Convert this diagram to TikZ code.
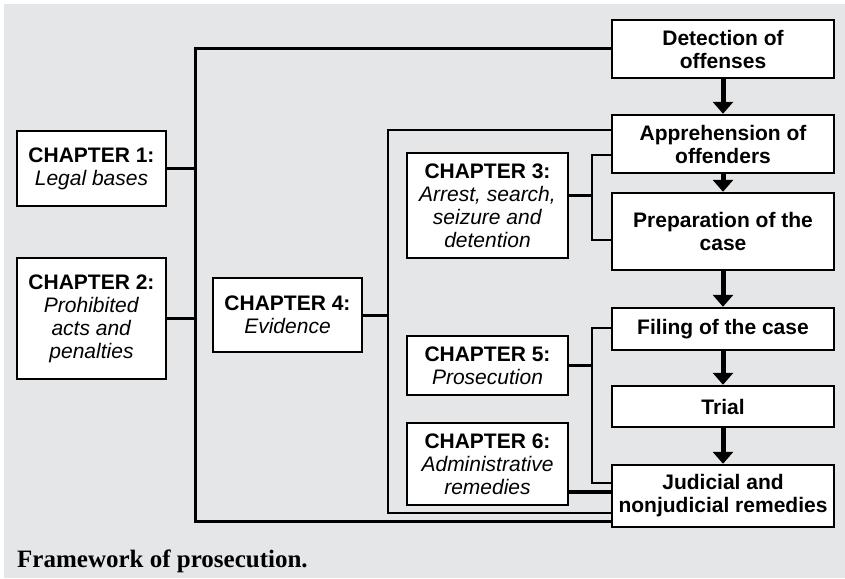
\documentclass[tikz,border=0pt]{standalone}
\usepackage{fontspec}
\setmainfont{Liberation Serif}
\setsansfont{Liberation Sans}
\usetikzlibrary{arrows.meta}
\definecolor{panel}{RGB}{229,230,232}

\begin{document}
\begin{tikzpicture}[x=1pt,y=-1pt,
  box/.style={draw, line width=2.4pt, fill=white, inner sep=0pt, align=center,
    font=\sffamily\fontsize{21}{23}\selectfont},
  chap/.style={box, minimum width=149pt},
  stage/.style={box, font=\sffamily\bfseries\fontsize{21}{23}\selectfont, minimum width=222pt},
  link/.style={line width=2.2pt},
  heavy/.style={line width=3pt},
  flow/.style={line width=5pt, -{Triangle[width=20pt,length=12pt]}}]
\useasboundingbox (0,0) rectangle (845,578);
\fill[panel] (4,4) rectangle (845,578);

% stages of the prosecution
\node[stage, minimum height=58pt] (det) at (723,49) {Detection of\\offenses};
\node[stage, minimum height=58pt] (app) at (723,144) {Apprehension of\\offenders};
\node[stage, minimum height=77pt] (prep) at (723,231.5) {Preparation of the\\case};
\node[stage, minimum height=42pt] (fil) at (723,329) {Filing of the case};
\node[stage, minimum height=41pt] (tri) at (723,406.5) {Trial};
\node[stage, minimum height=62pt] (jud) at (723,496) {Judicial and\\nonjudicial remedies};

% chapters
\node[chap, minimum height=75pt] (ch1) at (91.5,168.5) {\textbf{CHAPTER 1:}\\\textit{Legal bases}};
\node[chap, minimum height=121pt] (ch2) at (91.5,318.5) {\textbf{CHAPTER 2:}\\\textit{Prohibited}\\\textit{acts and}\\\textit{penalties}};
\node[chap, minimum height=74pt] (ch4) at (287.5,315) {\textbf{CHAPTER 4:}\\\textit{Evidence}};
\node[chap, minimum width=161pt, minimum height=105pt] (ch3) at (487.5,205.5) {\textbf{CHAPTER 3:}\\\textit{Arrest, search,}\\\textit{seizure and}\\\textit{detention}};
\node[chap, minimum width=161pt, minimum height=59pt] (ch5) at (487.5,365.5) {\textbf{CHAPTER 5:}\\\textit{Prosecution}};
\node[chap, minimum width=161pt, minimum height=82pt] (ch6) at (487.5,464) {\textbf{CHAPTER 6:}\\\textit{Administrative}\\\textit{remedies}};

\node[anchor=base west, font=\bfseries\fontsize{25}{30}\selectfont, inner sep=0pt] (cap) at (17,567) {Framework of prosecution.};

% bus lines
\coordinate (a2) at (195,521);
\coordinate (b1) at (388,130);
\coordinate (b2) at (388,513);
\coordinate (c1) at (592,155);
\coordinate (c2) at (592,240);
\coordinate (c3) at (592,195);
\coordinate (d1) at (592,328);
\coordinate (d2) at (592,483);
\coordinate (e1) at (592,492);

\draw[heavy] (det.west) -| (a2) -- (jud.west |- a2);
\draw[heavy] (ch1) -- (ch1 -| a2);
\draw[heavy] (ch2) -- (ch2 -| a2);
\draw[link] (app.west |- b1) -| (b2) -- (jud.west |- b2);
\draw[heavy] (ch4) -- (ch4 -| b1);
\draw[link] (app.west |- c1) -| (c2) -- (prep.west |- c2);
\draw[heavy] (ch3.east |- c3) -- (c3);
\draw[link] (fil.west |- d1) -| (d2) -- (jud.west |- d2);
\draw[heavy] (ch5) -- (ch5 -| d1);
\draw[line width=4pt] (ch6.east |- e1) -- (jud.west |- e1);

% flow arrows
\draw[flow] (det.south) -- (app.north);
\draw[flow] (app.south) -- (prep.north);
\draw[flow] (prep.south) -- (fil.north);
\draw[flow] (fil.south) -- (tri.north);
\draw[flow] (tri.south) -- (jud.north);
\end{tikzpicture}
\end{document}
